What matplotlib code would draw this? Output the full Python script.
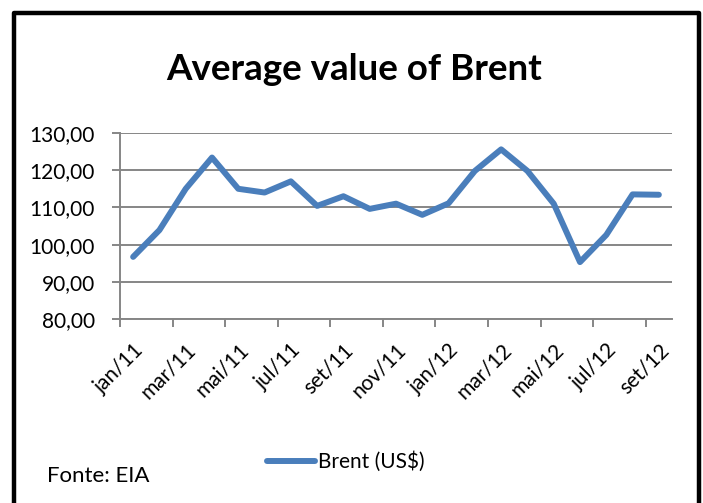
import matplotlib
matplotlib.use("Agg")
import matplotlib.pyplot as plt
from matplotlib.patches import Rectangle
from matplotlib.ticker import FuncFormatter
import numpy as np

months = ["jan/11", "fev/11", "mar/11", "abr/11", "mai/11", "jun/11", "jul/11",
          "ago/11", "set/11", "out/11", "nov/11", "dez/11", "jan/12", "fev/12",
          "mar/12", "abr/12", "mai/12", "jun/12", "jul/12", "ago/12", "set/12"]
brent = [96.7, 103.9, 115.0, 123.4, 115.0, 114.0, 117.0, 110.4, 113.0, 109.6,
         111.0, 108.0, 111.1, 119.8, 125.6, 119.8, 111.0, 95.3, 102.6, 113.5, 113.4]
yticks = [80, 90, 100, 110, 120, 130]

FAM = ["Lato", "DejaVu Sans"]
plt.rcParams["font.family"] = FAM

W, H = 703, 503
fig = plt.figure(figsize=(W / 100, H / 100), dpi=100)
ax = fig.add_axes([120 / W, 1 - 319 / H, (672 - 120) / W, (319 - 133) / H])

blue = "#4A7EBB"
grid = "#868686"
x = np.arange(len(months))
line, = ax.plot(x, brent, color=blue, lw=4.3, solid_joinstyle="round",
                solid_capstyle="round", label="Brent (US$)")

ax.set_xlim(-0.5, len(months) - 0.5)
ax.set_ylim(yticks[0], yticks[-1])
ax.set_yticks(yticks)
ax.yaxis.set_major_formatter(FuncFormatter(lambda v, p: f"{v:.2f}".replace(".", ",")))
ax.grid(axis="y", color=grid, lw=1.4)
ax.set_axisbelow(True)

ax.set_xticks(np.arange(-0.5, len(months) - 1, 2))
ax.set_xticklabels([])
ax.set_xticks(x[::2], minor=True)
ax.set_xticklabels(months[::2], minor=True, rotation=45, ha="right", va="top",
                   rotation_mode="anchor", fontsize=15)
ax.tick_params(axis="x", which="minor", length=0, pad=15)
ax.tick_params(axis="x", which="major", length=6, color=grid, width=1.4)
ax.tick_params(axis="y", length=6, color=grid, width=1.4, labelsize=15, pad=12)

for s in ["top", "right"]:
    ax.spines[s].set_visible(False)
for s in ["left", "bottom"]:
    ax.spines[s].set_color(grid)
    ax.spines[s].set_linewidth(1.4)

fig.text(354 / W, 1 - 69 / H, "Average value of Brent", ha="center", va="center",
         fontsize=26.5, fontweight="bold")

fig.legend(handles=[line], loc="center", bbox_to_anchor=(346 / W, 1 - 462 / H),
           frameon=False, fontsize=15, handlelength=2.3, handletextpad=0.15)
fig.text(47 / W, 1 - 476 / H, "Fonte: EIA", ha="left", va="center", fontsize=16)

fig.patches.append(Rectangle((14 / W, -0.05), (699 - 14) / W, (1 - 13 / H) + 0.05,
                             transform=fig.transFigure, fill=False, ec="black",
                             lw=3.2, joinstyle="round", clip_on=False))

fig.savefig("out.png", dpi=100)
